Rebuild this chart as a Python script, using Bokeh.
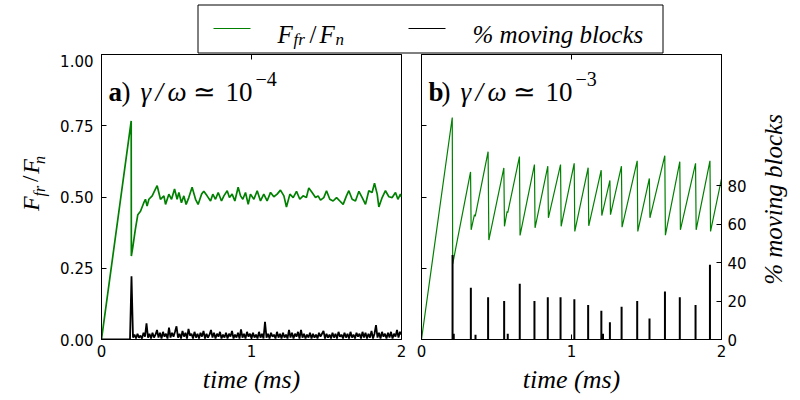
import math
from bokeh.plotting import figure
from bokeh.layouts import column, row
from bokeh.models import Range1d, LinearAxis, FixedTicker, NumeralTickFormatter, Label, BoxAnnotation
from bokeh.embed import file_html
from bokeh.resources import INLINE

# ---------------- data ----------------
x_ticks = [0, 1, 2]
y_ticks = [0, 0.25, 0.5, 0.75, 1.0]
pct_ticks = [0, 20, 40, 60, 80]
PCT_MAX = 148.5

# panel a: friction force ratio
left_green_t = [0.0, 0.198, 0.199, 0.209, 0.222, 0.227, 0.242, 0.26, 0.282, 0.293,
                0.304, 0.316, 0.338, 0.349, 0.371, 0.382, 0.393, 0.416, 0.427, 0.449,
                0.467, 0.487, 0.504, 0.516, 0.533, 0.549, 0.564, 0.582, 0.604, 0.627,
                0.644, 0.667, 0.682, 0.704, 0.727, 0.742, 0.76, 0.778, 0.8, 0.816,
                0.838, 0.853, 0.871, 0.889, 0.911, 0.927, 0.942, 0.96, 0.978, 0.993,
                1.016, 1.038, 1.06, 1.082, 1.104, 1.127, 1.149, 1.171, 1.193, 1.216,
                1.233, 1.256, 1.278, 1.3, 1.322, 1.344, 1.366, 1.382, 1.404, 1.427,
                1.444, 1.46, 1.482, 1.5, 1.522, 1.544, 1.567, 1.589, 1.611, 1.633,
                1.649, 1.671, 1.693, 1.716, 1.738, 1.76, 1.782, 1.804, 1.82, 1.838,
                1.849, 1.871, 1.893, 1.916, 1.938, 1.96, 1.976, 1.993, 2.0]
left_green_y = [0.0, 0.767, 0.293, 0.325, 0.373, 0.391, 0.438, 0.45, 0.48, 0.492,
                0.468, 0.492, 0.504, 0.516, 0.54, 0.516, 0.492, 0.504, 0.474, 0.51,
                0.492, 0.528, 0.492, 0.516, 0.48, 0.504, 0.474, 0.498, 0.534, 0.492,
                0.474, 0.51, 0.52, 0.504, 0.486, 0.51, 0.492, 0.516, 0.486, 0.504,
                0.522, 0.498, 0.51, 0.486, 0.534, 0.504, 0.492, 0.516, 0.474, 0.51,
                0.492, 0.522, 0.486, 0.51, 0.486, 0.516, 0.501, 0.51, 0.524, 0.504,
                0.465, 0.51, 0.498, 0.52, 0.492, 0.504, 0.498, 0.532, 0.516, 0.498,
                0.504, 0.489, 0.498, 0.522, 0.492, 0.486, 0.498, 0.486, 0.474, 0.504,
                0.522, 0.492, 0.486, 0.52, 0.498, 0.474, 0.522, 0.516, 0.548, 0.51,
                0.465, 0.498, 0.522, 0.501, 0.498, 0.516, 0.492, 0.51, 0.50]

# panel a: % moving blocks
left_black_t = [0.0, 0.19, 0.20,
                0.21, 0.22, 0.23, 0.24, 0.25, 0.26, 0.27, 0.28, 0.29, 0.30,
                0.31, 0.32, 0.33, 0.34, 0.35, 0.36, 0.37, 0.38, 0.39, 0.40,
                0.41, 0.42, 0.43, 0.44, 0.45, 0.46, 0.47, 0.48, 0.49, 0.50,
                0.51, 0.52, 0.53, 0.54, 0.55, 0.56, 0.57, 0.58, 0.59, 0.60,
                0.61, 0.62, 0.63, 0.64, 0.65, 0.66, 0.67, 0.68, 0.69, 0.70,
                0.71, 0.72, 0.73, 0.74, 0.75, 0.76, 0.77, 0.78, 0.79, 0.80,
                0.81, 0.82, 0.83, 0.84, 0.85, 0.86, 0.87, 0.88, 0.89, 0.90,
                0.91, 0.92, 0.93, 0.94, 0.95, 0.96, 0.97, 0.98, 0.99, 1.00,
                1.01, 1.02, 1.03, 1.04, 1.05, 1.06, 1.07, 1.08, 1.09, 1.10,
                1.11, 1.12, 1.13, 1.14, 1.15, 1.16, 1.17, 1.18, 1.19, 1.20,
                1.21, 1.22, 1.23, 1.24, 1.25, 1.26, 1.27, 1.28, 1.29, 1.30,
                1.31, 1.32, 1.33, 1.34, 1.35, 1.36, 1.37, 1.38, 1.39, 1.40,
                1.41, 1.42, 1.43, 1.44, 1.45, 1.46, 1.47, 1.48, 1.49, 1.50,
                1.51, 1.52, 1.53, 1.54, 1.55, 1.56, 1.57, 1.58, 1.59, 1.60,
                1.61, 1.62, 1.63, 1.64, 1.65, 1.66, 1.67, 1.68, 1.69, 1.70,
                1.71, 1.72, 1.73, 1.74, 1.75, 1.76, 1.77, 1.78, 1.79, 1.80,
                1.81, 1.82, 1.83, 1.84, 1.85, 1.86, 1.87, 1.88, 1.89, 1.90,
                1.91, 1.92, 1.93, 1.94, 1.95, 1.96, 1.97, 1.98, 1.99, 2.00]
left_black_pct = [0, 0, 33,
                  1.0, 2.5, 0.5, 3.0, 1.0, 2.0, 0.5, 3.5, 1.5, 8.4,
                  1.0, 3.0, 0.5, 3.5, 1.0, 2.5, 5.0, 1.0, 3.5, 0.5,
                  4.0, 1.5, 3.0, 0.5, 6.2, 1.0, 3.5, 1.5, 4.0, 6.9,
                  1.0, 3.0, 0.5, 4.5, 1.5, 3.5, 0.5, 5.5, 2.0, 3.0,
                  0.5, 4.0, 1.0, 3.0, 0.5, 3.5, 1.5, 4.5, 0.5, 3.0,
                  1.0, 2.5, 5.0, 1.0, 3.5, 0.5, 3.0, 1.5, 4.0, 0.5,
                  2.5, 1.0, 3.5, 0.5, 3.0, 1.5, 4.5, 0.5, 2.5, 1.0,
                  3.5, 0.5, 5.2, 1.0, 3.0, 0.5, 4.0, 1.5, 3.0, 0.5,
                  3.5, 1.0, 2.5, 0.5, 4.0, 1.0, 3.0, 0.5, 9.2, 1.0,
                  3.0, 0.5, 3.5, 1.5, 2.5, 0.5, 4.0, 1.0, 3.0, 0.5,
                  3.5, 1.0, 2.5, 0.5, 5.0, 1.0, 3.5, 0.5, 3.0, 1.5,
                  4.0, 0.5, 5.0, 1.0, 3.0, 0.5, 2.5, 1.0, 3.5, 0.5,
                  3.0, 1.0, 2.5, 0.5, 3.5, 1.5, 3.0, 4.5, 0.5, 3.0,
                  1.0, 2.5, 0.5, 3.5, 1.0, 3.0, 0.5, 4.0, 1.5, 2.5,
                  0.5, 3.5, 1.0, 3.0, 0.5, 4.0, 1.0, 2.5, 0.5, 3.5,
                  1.5, 3.0, 0.5, 4.0, 1.0, 3.5, 0.5, 3.0, 1.0, 4.5,
                  0.5, 3.0, 7.5, 1.0, 3.5, 0.5, 4.0, 1.5, 3.0, 0.5,
                  3.5, 1.0, 4.0, 0.5, 3.0, 1.5, 5.0, 1.0, 4.0, 2.5]

# panel b: friction force ratio (stick-slip)
right_green_t = [0.0, 0.205, 0.208, 0.327, 0.331, 0.353, 0.358, 0.444, 0.449, 0.549,
                 0.553, 0.571, 0.575, 0.653, 0.657, 0.753, 0.757, 0.842, 0.846, 0.927,
                 0.931, 1.018, 1.022, 1.111, 1.115, 1.198, 1.202, 1.256, 1.26, 1.333,
                 1.337, 1.438, 1.442, 1.519, 1.523, 1.622, 1.626, 1.722, 1.726, 1.827,
                 1.831, 1.923, 1.927, 2.0]
right_green_y = [0.0, 0.779, 0.265, 0.588, 0.385, 0.438, 0.432, 0.659, 0.349, 0.602,
                 0.397, 0.45, 0.445, 0.642, 0.365, 0.614, 0.392, 0.608, 0.427, 0.614,
                 0.397, 0.618, 0.379, 0.603, 0.399, 0.594, 0.435, 0.558, 0.438, 0.608,
                 0.394, 0.627, 0.379, 0.565, 0.427, 0.645, 0.366, 0.624, 0.385, 0.618,
                 0.385, 0.627, 0.379, 0.564]

# panel b: % moving blocks (slip events)
right_spike_t = [0.207, 0.215, 0.329, 0.36, 0.444, 0.551, 0.575, 0.655, 0.753, 0.842,
                 0.927, 1.019, 1.111, 1.199, 1.21, 1.256, 1.334, 1.438, 1.52, 1.623,
                 1.722, 1.827, 1.923]
right_spike_pct = [44, 3, 27, 2.5, 22, 20, 3, 29, 20, 22,
                   22, 21, 18, 15, 3, 9, 17, 20, 11, 25,
                   22, 18, 39]

GREEN = "#008000"
TICK_FONT = "DejaVu Sans"
MATH_FONT = "Liberation Serif"
LEG_H = 54
ROW_H = 400 - LEG_H


def style_axis(ax, show_labels=True):
    ax.axis_line_color = "black"
    ax.major_tick_line_color = "black"
    ax.major_tick_in = 5
    ax.major_tick_out = 0
    ax.minor_tick_line_color = None
    ax.major_label_text_font = TICK_FONT
    if show_labels:
        ax.major_label_text_color = "black"
        ax.major_label_text_font_size = "15px"
    else:
        ax.major_label_text_color = None
        ax.major_label_text_alpha = 0
        ax.major_label_text_font_size = "1px"
        ax.major_label_standoff = 0


def make_panel(width, bl, br):
    p = figure(width=width, height=ROW_H, x_range=Range1d(0, 2), y_range=Range1d(0, 1),
               toolbar_location=None, output_backend="svg",
               min_border_left=bl, min_border_right=br, min_border_top=0, min_border_bottom=61)
    p.extra_y_ranges = {"pct": Range1d(0, PCT_MAX)}
    p.xgrid.visible = False
    p.ygrid.visible = False
    p.outline_line_color = "black"
    p.outline_line_alpha = 1
    p.xaxis.ticker = FixedTicker(ticks=x_ticks)
    p.yaxis.ticker = FixedTicker(ticks=y_ticks)
    p.yaxis.formatter = NumeralTickFormatter(format="0.00")
    style_axis(p.xaxis[0])
    p.xaxis.major_label_standoff = 5
    p.xaxis.axis_label = "time (ms)"
    p.xaxis.axis_label_text_font = MATH_FONT
    p.xaxis.axis_label_text_font_style = "italic"
    p.xaxis.axis_label_text_font_size = "26px"
    p.xaxis.axis_label_text_color = "black"
    p.xaxis.axis_label_standoff = 5
    top = LinearAxis(ticker=FixedTicker(ticks=x_ticks))
    style_axis(top, show_labels=False)
    p.add_layout(top, "above")
    return p


def strip(width, height, x_range, y_range):
    s = figure(width=width, height=height, x_range=x_range, y_range=y_range,
               toolbar_location=None, output_backend="svg", min_border=0,
               x_axis_location=None, y_axis_location=None)
    s.grid.visible = False
    s.outline_line_color = None
    return s


def lab(p, x, y, text, size, style="normal", font=MATH_FONT, angle=0, align="left",
        baseline="alphabetic"):
    p.add_layout(Label(x=x, y=y, text=text, text_font=font, text_font_size=f"{size}px",
                       text_font_style=style, angle=angle, text_align=align,
                       text_baseline=baseline, text_color="black"))


def vlab(p, x, y, text, size, style="italic"):
    # rotated text, reading bottom to top
    lab(p, x, y, text, size, style=style, angle=math.pi / 2, align="center", baseline="middle")


def panel_title(p, letter, exponent):
    lab(p, 0.047, 0.868, letter, 27, style="bold")
    lab(p, 0.133, 0.868, ")", 27)
    lab(p, 0.26, 0.868, "γ", 27, style="italic")
    lab(p, 0.36, 0.868, "/", 27, style="italic")
    lab(p, 0.44, 0.868, "ω", 27, style="italic")
    lab(p, 0.613, 0.868, "≃", 27)
    lab(p, 0.827, 0.868, "10", 27)
    lab(p, 1.027, 0.914, exponent, 20)


# ---------------- panel a ----------------
p1 = make_panel(354, 44, 10)
style_axis(p1.yaxis[0])
p1.yaxis.major_label_standoff = 8
p1.line(left_green_t, left_green_y, color=GREEN, line_width=1.7)
p1.line(left_black_t, left_black_pct, color="black", line_width=1.8, y_range_name="pct")
panel_title(p1, "a", "−4")

# ---------------- panel b ----------------
p2 = make_panel(350, 10, 40)
style_axis(p2.yaxis[0], show_labels=False)
p2.line(right_green_t, right_green_y, color=GREEN, line_width=1.2)
p2.segment(x0=right_spike_t, y0=[0] * len(right_spike_t), x1=right_spike_t, y1=right_spike_pct,
           color="black", line_width=2, y_range_name="pct")
ax_r = LinearAxis(y_range_name="pct", ticker=FixedTicker(ticks=pct_ticks))
style_axis(ax_r)
ax_r.major_label_standoff = 6
p2.add_layout(ax_r, "right")
panel_title(p2, "b", "−3")

# ---------------- side strips holding the rotated axis titles ----------------
# coordinates in these strips are pixels: x from the strip's left edge, y = 400 - page y
left_strip = strip(57, ROW_H, Range1d(0, 57), Range1d(0, ROW_H))
vlab(left_strip, 30, 165, "F", 24)
vlab(left_strip, 39, 180, "fr", 16)
vlab(left_strip, 30, 195, "/", 23, style="normal")
vlab(left_strip, 30, 210, "F", 24)
vlab(left_strip, 39, 218, "n", 16)

right_strip = strip(39, ROW_H, Range1d(0, 39), Range1d(0, ROW_H))
vlab(right_strip, 12, 170, "% moving blocks", 25)

# ---------------- legend strip ----------------
leg = strip(800, LEG_H, Range1d(0, 800), Range1d(LEG_H, 0))
leg.add_layout(BoxAnnotation(left=197.5, right=662.5, top=4.5, bottom=52.5, level="underlay",
                             fill_color="white", fill_alpha=1, line_color="black",
                             line_alpha=1, line_width=1))
leg.line([213, 250], [28, 28], color=GREEN, line_width=1.2)
leg.line([408, 445], [28, 28], color="black", line_width=1.2)
lab(leg, 277, 34, "F", 25, style="italic")
lab(leg, 293, 39, "fr", 17, style="italic")
lab(leg, 309, 34, "/", 25)
lab(leg, 319, 34, "F", 25, style="italic")
lab(leg, 335, 39, "n", 17, style="italic")
lab(leg, 472, 34, "% moving blocks", 25, style="italic")

layout = column(leg, row(left_strip, p1, p2, right_strip))
open("out.html", "w").write(file_html(layout, INLINE))
